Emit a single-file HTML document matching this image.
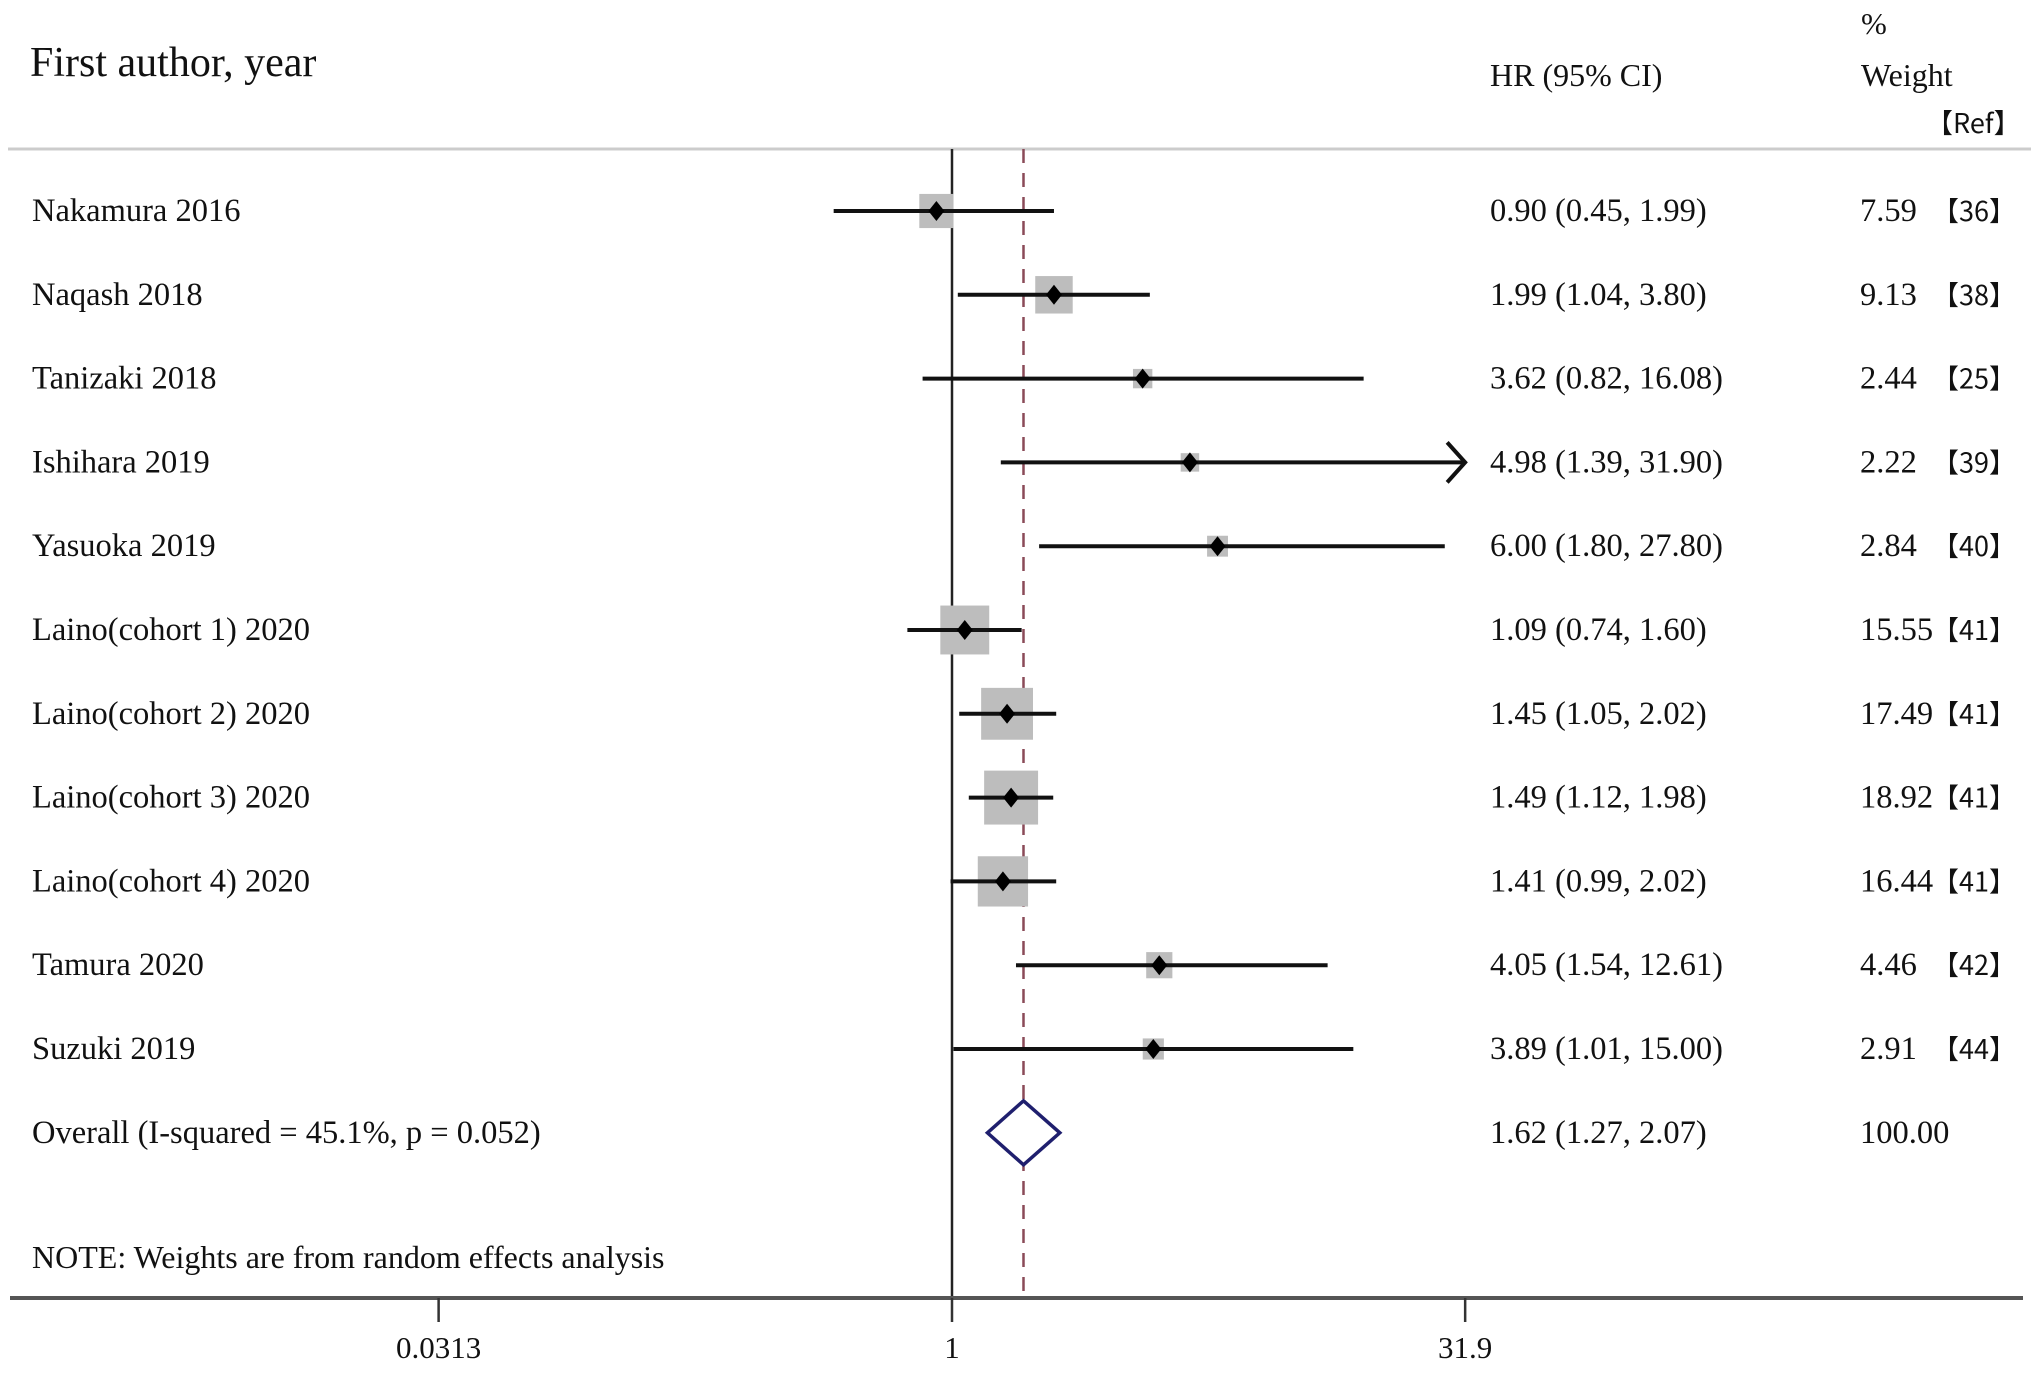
<!DOCTYPE html>
<html><head><meta charset="utf-8"><style>
html,body{margin:0;padding:0;background:#fff;}
svg text{font-family:"Liberation Serif","Noto Serif CJK SC",serif;fill:#111;}
</style></head><body>
<svg id="chart" width="2031" height="1372" viewBox="0 0 2031 1372" xmlns="http://www.w3.org/2000/svg">
<g id="static">
<text x="30" y="76" font-size="42">First author, year</text>
<text x="1490" y="86" font-size="32">HR (95% CI)</text>
<text x="1861" y="34" font-size="31">%</text>
<text x="1861" y="86" font-size="32">Weight</text>
<text x="1926" y="133" font-size="27" style="font-family:'Noto Sans CJK SC',sans-serif">【Ref】</text>
<line x1="8" y1="149" x2="2031" y2="149" stroke="#ccc" stroke-width="3"/>
<text x="32" y="1268" font-size="32">NOTE: Weights are from random effects analysis</text>
</g>
<g id="marks"></g>
</svg>
<script>
const studies=["Nakamura 2016","Naqash 2018","Tanizaki 2018","Ishihara 2019","Yasuoka 2019","Laino(cohort 1) 2020","Laino(cohort 2) 2020","Laino(cohort 3) 2020","Laino(cohort 4) 2020","Tamura 2020","Suzuki 2019"];
const hr=[0.90,1.99,3.62,4.98,6.00,1.09,1.45,1.49,1.41,4.05,3.89];
const lower=[0.45,1.04,0.82,1.39,1.80,0.74,1.05,1.12,0.99,1.54,1.01];
const upper=[1.99,3.80,16.08,31.90,27.80,1.60,2.02,1.98,2.02,12.61,15.00];
const weights=[7.59,9.13,2.44,2.22,2.84,15.55,17.49,18.92,16.44,4.46,2.91];
const refs=["36","38","25","39","40","41","41","41","41","42","44"];
const overall=[1.62,1.27,2.07];
const overallLabel="Overall  (I-squared = 45.1%, p = 0.052)";
const ticks=[0.0313,1,31.9];
const tickLabels=["0.0313","1","31.9"];

const NS="http://www.w3.org/2000/svg";
const g=document.getElementById('marks');
const x0=952, k=148.2, xmax=31.9;
const xs=v=>x0+k*Math.log(v);
const rowY=i=>211+83.8*i;
const axisY=1298, topY=149;
function mk(t,a){const e=document.createElementNS(NS,t);for(const n in a)e.setAttribute(n,a[n]);g.appendChild(e);return e;}
const f=v=>v.toFixed(2);

let e=mk('line',{x1:x0,y1:topY,x2:x0,y2:axisY,stroke:'#222','stroke-width':2.5});


e=mk('line',{x1:xs(overall[0]),y1:topY,x2:xs(overall[0]),y2:axisY,stroke:'#8a4a58','stroke-width':2.5,'stroke-dasharray':'14,10'});



studies.forEach((s,i)=>{
  const y=rowY(i);
  let t=mk('text',{x:32,y:y+10,'font-size':32.5});t.textContent=s;
  
  
  const side=12.4*Math.sqrt(weights[i]);
  let sq=mk('rect',{x:xs(hr[i])-side/2,y:y-side/2,width:side,height:side,fill:'#bdbdbd'});
  
  
  const hi=Math.min(upper[i],xmax);
  let l=mk('line',{x1:xs(lower[i]),y1:y,x2:xs(hi),y2:y,stroke:'#111','stroke-width':4});
  
  
  if(upper[i]>=xmax){
    const ax=xs(xmax);
    let a=mk('polyline',{points:`${ax-18},${y-20} ${ax},${y} ${ax-18},${y+20}`,fill:'none',stroke:'#111','stroke-width':4});
    
    
  }
  const px=xs(hr[i]);
  let d=mk('polygon',{points:`${px},${y-10} ${px+8},${y} ${px},${y+10} ${px-8},${y}`,fill:'#000'});
  
  
  t=mk('text',{x:1490,y:y+10,'font-size':32.5});t.textContent=`${f(hr[i])} (${f(lower[i])}, ${f(upper[i])})`;
  
  
  t=mk('text',{x:1860,y:y+10,'font-size':32.5});t.textContent=f(weights[i]);
  
  
  t=mk('text',{x:1932,y:y+10,'font-size':27,style:"font-family:'Noto Sans CJK SC',sans-serif"});t.textContent=`【${refs[i]}】`;
  
  
});

const oy=rowY(studies.length);
let t=mk('text',{x:32,y:oy+10,'font-size':32.5});t.textContent=overallLabel;


let dm=mk('polygon',{points:`${xs(overall[1])},${oy} ${xs(overall[0])},${oy-32} ${xs(overall[2])},${oy} ${xs(overall[0])},${oy+32}`,fill:'#fff',stroke:'#1f1f6e','stroke-width':3.5});


t=mk('text',{x:1490,y:oy+10,'font-size':32.5});t.textContent=`${f(overall[0])} (${f(overall[1])}, ${f(overall[2])})`;


t=mk('text',{x:1860,y:oy+10,'font-size':32.5});t.textContent="100.00";



let ax=mk('line',{x1:10,y1:axisY,x2:2023,y2:axisY,stroke:'#555','stroke-width':4});


ticks.forEach((v,i)=>{
  let tk=mk('line',{x1:xs(v),y1:axisY,x2:xs(v),y2:axisY+24,stroke:'#333','stroke-width':2.5});
  
  
  let tl=mk('text',{x:xs(v),y:1358,'font-size':31,'text-anchor':'middle'});tl.textContent=tickLabels[i];
  
  
});
</script>
</body></html>
